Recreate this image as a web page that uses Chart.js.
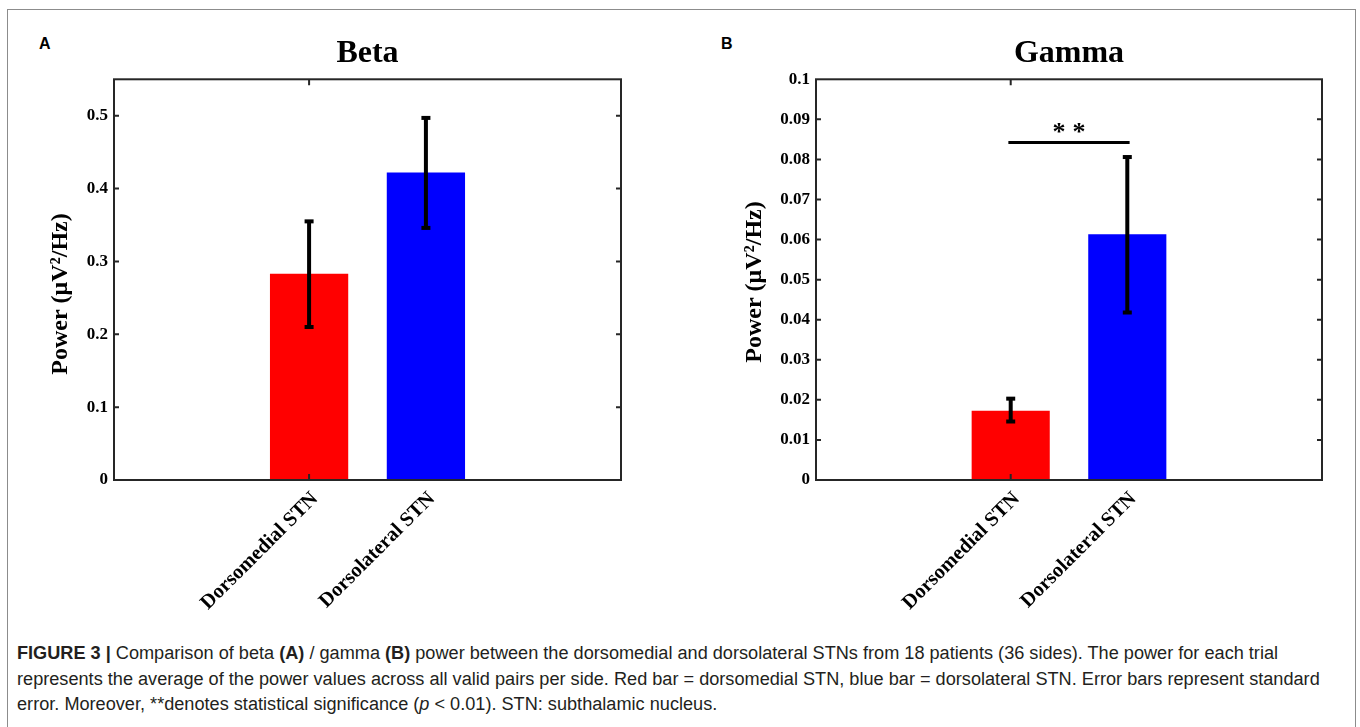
<!DOCTYPE html>
<html>
<head>
<meta charset="utf-8">
<title>Figure 3</title>
<script src="https://cdn.jsdelivr.net/npm/chart.js@4.4.0/dist/chart.umd.min.js"></script>
<style>
  html, body { margin: 0; padding: 0; background: #fff; width: 1360px; height: 727px; overflow: hidden; }
  #frame { position: absolute; left: 7px; top: 9px; width: 1347px; height: 760px; border: 1px solid #8c8c8c; }
  canvas { position: absolute; top: 0; }
  #chartA { left: 0; }
  #chartB { left: 680px; }
  .panel { position: absolute; top: 36px; font: bold 16px/16px "Liberation Sans", Arial, sans-serif; color: #000; }
  #caption { position: absolute; left: 17px; top: 641px; font: 18.15px/25.5px "Liberation Sans", Arial, sans-serif; color: #231f20; white-space: nowrap; }
</style>
</head>
<body>
<div id="frame"></div>
<div class="panel" style="left:39px">A</div>
<div class="panel" style="left:721px">B</div>
<canvas id="chartA" width="680" height="640"></canvas>
<canvas id="chartB" width="680" height="640"></canvas>
<div id="caption">
<b>FIGURE 3 |</b> Comparison of beta <b>(A)</b> / gamma <b>(B)</b> power between the dorsomedial and dorsolateral STNs from 18 patients (36 sides). The power for each trial<br>
represents the average of the power values across all valid pairs per side. Red bar = dorsomedial STN, blue bar = dorsolateral STN. Error bars represent standard<br>
error. Moreover, **denotes statistical significance (<i>p</i> &lt; 0.01). STN: subthalamic nucleus.
</div>

<script>
// categorias e posições no eixo x
const categories = ['Dorsomedial STN', 'Dorsolateral STN'];
const barX = [1, 2];
const barColors = ['#ff0000', '#0000ff'];

// painel A - beta
const betaPower = [0.283, 0.422];
const betaErrLow = [0.210, 0.346];
const betaErrHigh = [0.355, 0.497];
const betaTicks = [0, 0.1, 0.2, 0.3, 0.4, 0.5];
const betaTickLabels = ['0', '0.1', '0.2', '0.3', '0.4', '0.5'];

// painel B - gamma
const gammaPower = [0.0173, 0.0613];
const gammaErrLow = [0.0146, 0.0418];
const gammaErrHigh = [0.0203, 0.0806];
const gammaTicks = [0, 0.01, 0.02, 0.03, 0.04, 0.05, 0.06, 0.07, 0.08, 0.09, 0.1];
const gammaTickLabels = ['0', '0.01', '0.02', '0.03', '0.04', '0.05', '0.06', '0.07', '0.08', '0.09', '0.1'];

// marca de significância (B)
const sigX = [0.98, 2.02];
const sigY = [0.0842, 0.0842];
const sigLabel = '**';

const yTitle = 'Power (\u03bcV\u00b2/Hz)';
const SERIF = '"Liberation Serif", "Times New Roman", serif';

// barras de erro, moldura do eixo, ticks internos e textos extras
const figurePlugin = {
  id: 'figure',
  afterDatasetsDraw(chart, args, opts) {
    const ctx = chart.ctx, xs = chart.scales.x, ys = chart.scales.y, a = chart.chartArea;
    ctx.save();
    ctx.strokeStyle = '#000';
    ctx.fillStyle = '#000';
    ctx.lineWidth = 4;
    opts.errLow.forEach((lo, i) => {
      const x = xs.getPixelForValue(barX[i]);
      const y1 = ys.getPixelForValue(lo), y2 = ys.getPixelForValue(opts.errHigh[i]);
      ctx.beginPath(); ctx.moveTo(x, y1); ctx.lineTo(x, y2); ctx.stroke();
      ctx.fillRect(x - 4.5, y1 - 2, 9, 4);
      ctx.fillRect(x - 4.5, y2 - 2, 9, 4);
    });

    // moldura
    ctx.strokeStyle = '#262626';
    ctx.lineWidth = 2;
    ctx.strokeRect(a.left, a.top, a.right - a.left, a.bottom - a.top);

    // ticks para dentro
    ctx.beginPath();
    ys.ticks.forEach(t => {
      const y = ys.getPixelForValue(t.value);
      if (y <= a.top + 2 || y >= a.bottom - 2) return;
      ctx.moveTo(a.left, y); ctx.lineTo(a.left + 5, y);
      ctx.moveTo(a.right, y); ctx.lineTo(a.right - 5, y);
    });
    opts.xTickMarks.forEach(v => {
      const x = xs.getPixelForValue(v);
      ctx.moveTo(x, a.top); ctx.lineTo(x, a.top + 6);
      ctx.moveTo(x, a.bottom); ctx.lineTo(x, a.bottom - 6);
    });
    ctx.stroke();

    // asteriscos
    if (opts.sigLabel) {
      ctx.font = 'bold 26px ' + SERIF;
      ctx.textAlign = 'center';
      ctx.textBaseline = 'alphabetic';
      ctx.letterSpacing = '7px';
      const cx = (xs.getPixelForValue(sigX[0]) + xs.getPixelForValue(sigX[1])) / 2;
      ctx.fillText(opts.sigLabel, cx + 3.5, ys.getPixelForValue(sigY[0]) - 3);
      ctx.letterSpacing = '0px';
    }

    // título do eixo y
    ctx.translate(opts.titleX, opts.titleY);
    ctx.rotate(-Math.PI / 2);
    ctx.font = 'bold 24px ' + SERIF;
    ctx.textAlign = 'center';
    ctx.textBaseline = 'alphabetic';
    ctx.fillText(yTitle, 0, 0);
    ctx.restore();
  }
};

function criarPainel(id, titulo, valores, errLow, errHigh, ticks, tickLabels, yMax, yWidth, extra) {
  const datasets = [{
    type: 'bar',
    data: barX.map((x, i) => ({ x: x, y: valores[i] })),
    backgroundColor: barColors,
    borderWidth: 0,
    categoryPercentage: 1,
    barPercentage: 0.67
  }];
  if (extra.sig) {
    datasets.push({
      type: 'line',
      data: sigX.map((x, i) => ({ x: x, y: sigY[i] })),
      borderColor: '#000',
      borderWidth: 3,
      pointRadius: 0,
      fill: false
    });
  }

  return new Chart(document.getElementById(id), {
    type: 'bar',
    data: { datasets: datasets },
    options: {
      responsive: false,
      animation: false,
      layout: { padding: { left: 0, top: 0, bottom: 0, right: extra.padRight } },
      plugins: {
        legend: { display: false },
        tooltip: { enabled: false },
        title: {
          display: true,
          text: titulo,
          fullSize: false,
          color: '#000',
          font: { family: SERIF, size: 32, weight: 'bold', lineHeight: 1.2 },
          padding: { top: 34.3, bottom: 6.6 }
        },
        figure: {
          errLow: errLow,
          errHigh: errHigh,
          xTickMarks: [1],
          sigLabel: extra.sig ? sigLabel : null,
          titleX: extra.titleX,
          titleY: extra.titleY
        }
      },
      scales: {
        x: {
          type: 'linear',
          min: -0.67,
          max: 3.67,
          offset: false,
          grid: { display: false, drawTicks: false, offset: false },
          border: { display: false },
          afterBuildTicks: s => { s.ticks = barX.map(v => ({ value: v })); },
          afterFit: s => { s.height = 160; },
          ticks: {
            autoSkip: false,
            minRotation: 45,
            maxRotation: 45,
            padding: 7,
            labelOffset: 6,
            color: '#000',
            font: { family: SERIF, size: 20.5, weight: 'bold' },
            callback: (v, i) => categories[i]
          }
        },
        y: {
          min: 0,
          max: yMax,
          grid: { display: false, drawTicks: false },
          border: { display: false },
          afterBuildTicks: s => { s.ticks = ticks.map(v => ({ value: v })); },
          afterFit: s => { s.width = yWidth; },
          ticks: {
            padding: 6,
            color: '#000',
            font: { family: SERIF, size: 17, weight: 'bold' },
            callback: (v, i) => tickLabels[i]
          }
        }
      }
    },
    plugins: [figurePlugin]
  });
}

criarPainel('chartA', 'Beta', betaPower, betaErrLow, betaErrHigh, betaTicks, betaTickLabels, 0.55, 114,
  { sig: false, titleX: 67, titleY: 294, padRight: 59 });
criarPainel('chartB', 'Gamma', gammaPower, gammaErrLow, gammaErrHigh, gammaTicks, gammaTickLabels, 0.1, 136,
  { sig: true, titleX: 81, titleY: 282, padRight: 38 });
</script>
</body>
</html>
